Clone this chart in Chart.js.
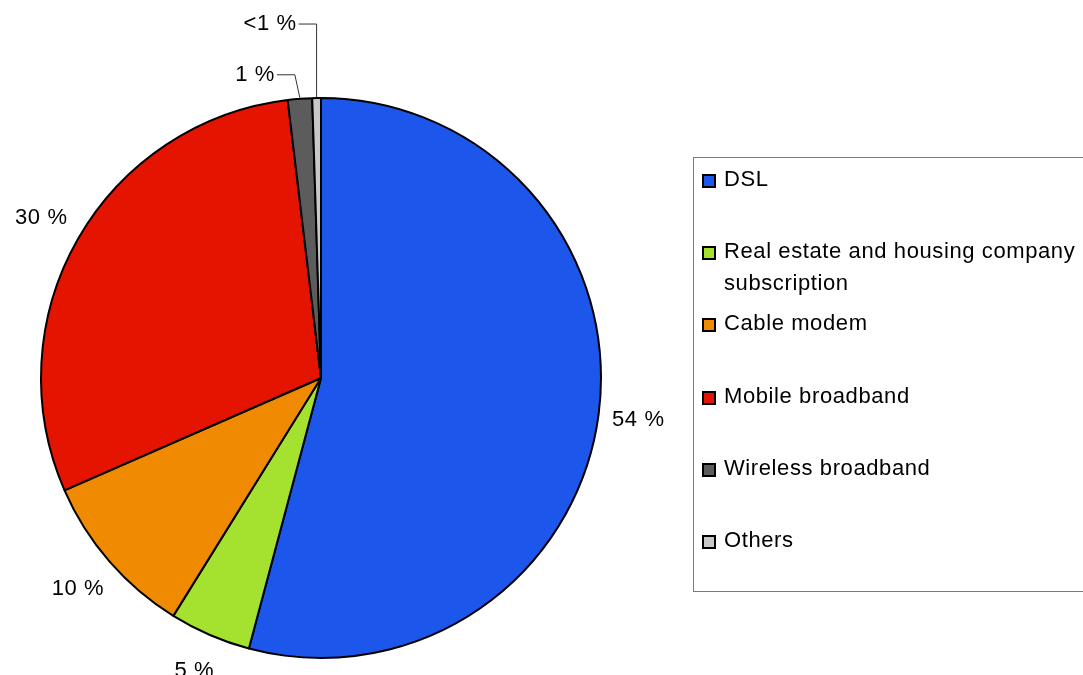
<!DOCTYPE html>
<html>
<head>
<meta charset="utf-8">
<script src="https://cdn.jsdelivr.net/npm/chart.js@4.4.0/dist/chart.umd.min.js"></script>
<style>
  html, body { margin: 0; padding: 0; background: #fff; }
  #wrap { position: relative; width: 1083px; height: 675px; overflow: hidden; }
  #pie { position: absolute; left: 0; top: 0; }
  #legend {
    position: absolute; left: 693px; top: 157px; width: 420px; height: 435px;
    border: 1px solid #7a7a7a; box-sizing: border-box;
    font-family: 'Liberation Sans', Arial, sans-serif; font-size: 22px;
    letter-spacing: 0.6px; color: #000;
  }
  .item { position: absolute; left: 8px; display: flex; align-items: flex-start; }
  .box { width: 10px; height: 10px; border: 2px solid #000; margin-top: 11px; margin-right: 8px; flex: none; }
  .txt { width: 372px; line-height: 32px; }
</style>
</head>
<body>
<div id="wrap">
  <canvas id="pie" width="1083" height="675"></canvas>
  <div id="legend"></div>
</div>
<script>
var categories = [
  'DSL',
  'Real estate and housing company subscription',
  'Cable modem',
  'Mobile broadband',
  'Wireless broadband',
  'Others'
];
var shares = [54.2, 4.7, 9.6, 29.7, 1.4, 0.5];
var colors = ['#1c56ea', '#a4e22f', '#f08a00', '#e41400', '#5c5c5c', '#c8c8c8'];

function pctLabel(v) {
  if (v < 1) return '<1 %';
  return Math.round(v) + ' %';
}

// legend box on the right
var legend = document.getElementById('legend');
categories.forEach(function(name, i) {
  var item = document.createElement('div');
  item.className = 'item';
  item.style.top = (5 + i * 72.2) + 'px';
  item.innerHTML = '<div class="box" style="background:' + colors[i] + '"></div><div class="txt"></div>';
  item.querySelector('.txt').textContent = name;
  legend.appendChild(item);
});

// outside labels, small slices get a leader line
var outerLabels = {
  id: 'outerLabels',
  afterDatasetsDraw: function(chart) {
    var ctx = chart.ctx;
    var arcs = chart.getDatasetMeta(0).data;
    var rise = [23, 73];
    var small = 0;
    ctx.save();
    ctx.font = '22px "Liberation Sans", Arial, sans-serif';
    ctx.letterSpacing = '0.6px';
    ctx.fillStyle = '#000';
    ctx.textBaseline = 'middle';
    arcs.forEach(function(arc, i) {
      var p = arc.getProps(['x', 'y', 'startAngle', 'endAngle', 'outerRadius'], true);
      var mid = (p.startAngle + p.endAngle) / 2;
      var text = pctLabel(shares[i]);
      if (shares[i] < 2) {
        var sx = p.x + Math.cos(mid) * (p.outerRadius + 1);
        var sy = p.y + Math.sin(mid) * (p.outerRadius + 1);
        var ex = sx - (small == 0 ? 5 : 0);
        var ey = sy - rise[small];
        ctx.strokeStyle = '#333';
        ctx.lineWidth = 1;
        ctx.beginPath();
        ctx.moveTo(sx, sy);
        ctx.lineTo(ex, ey);
        ctx.lineTo(ex - 18, ey);
        ctx.stroke();
        ctx.textAlign = 'right';
        ctx.fillText(text, ex - 20, ey);
        small++;
      } else {
        // wider labels on the left need a little more room
        var c = Math.cos(mid);
        var r = p.outerRadius + (c < 0 ? 37 + 6 * Math.abs(c) : 40);
        ctx.textAlign = 'center';
        ctx.fillText(text, p.x + c * r, p.y + Math.sin(mid) * r);
      }
    });
    ctx.restore();
  }
};

new Chart(document.getElementById('pie'), {
  type: 'pie',
  data: {
    labels: categories,
    datasets: [{
      data: shares,
      backgroundColor: colors,
      borderColor: '#000',
      borderWidth: 2
    }]
  },
  options: {
    responsive: false,
    animation: false,
    radius: 280,
    layout: { padding: { left: 0, right: 441, top: 81, bottom: 0 } },
    plugins: {
      legend: { display: false },
      tooltip: { enabled: false }
    }
  },
  plugins: [outerLabels]
});
</script>
</body>
</html>
